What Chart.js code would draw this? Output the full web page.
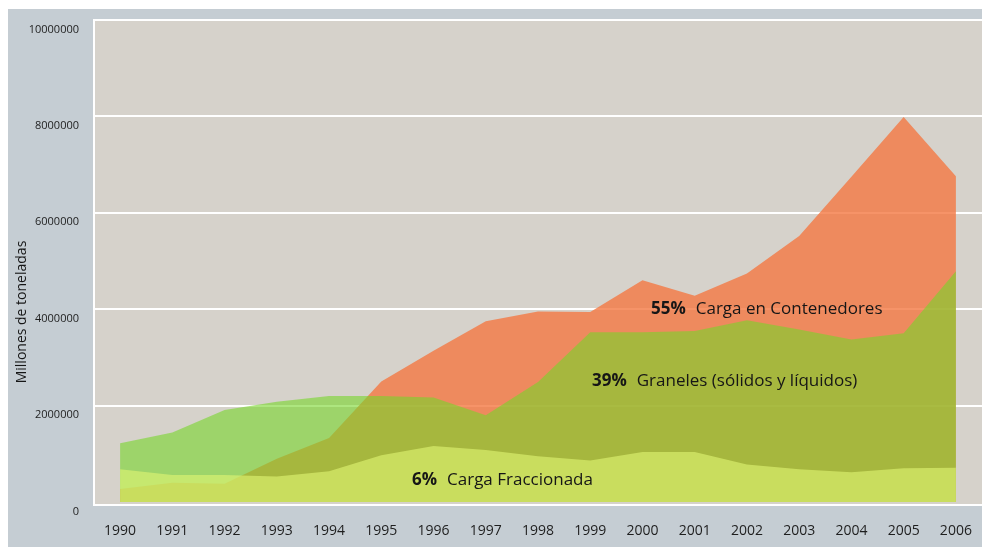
<!DOCTYPE html>
<html>
<head>
<meta charset="utf-8">
<script src="https://cdn.jsdelivr.net/npm/chart.js"></script>
<style>
  html, body { margin: 0; padding: 0; background: #fff; overflow: hidden; }
  #wrap { position: relative; width: 983px; height: 547px; }
</style>
</head>
<body>
<div id="wrap"><canvas id="grafico"></canvas></div>
<script>
// Datos (toneladas)
const anios = ['1990','1991','1992','1993','1994','1995','1996','1997','1998','1999','2000','2001','2002','2003','2004','2005','2006'];
const contenedores = [270000, 400000, 380000, 900000, 1330000, 2500000, 3140000, 3750000, 3950000, 3940000, 4600000, 4280000, 4740000, 5520000, 6750000, 7990000, 6760000];
const graneles = [1220000, 1440000, 1910000, 2080000, 2200000, 2200000, 2170000, 1800000, 2490000, 3520000, 3520000, 3550000, 3770000, 3580000, 3370000, 3500000, 4790000];
const fraccionada = [680000, 560000, 560000, 530000, 640000, 970000, 1160000, 1080000, 950000, 860000, 1040000, 1040000, 780000, 680000, 620000, 700000, 710000];
const ticksY = [0, 2000000, 4000000, 6000000, 8000000, 10000000];
const etiquetas = [
  { pct: '55%', texto: 'Carga en Contenedores', x: 651, y: 309 },
  { pct: '39%', texto: 'Graneles (sólidos y líquidos)', x: 592, y: 381 },
  { pct: '6%', texto: 'Carga Fraccionada', x: 412, y: 480 }
];

const fuente = "'Open Sans', 'DejaVu Sans', sans-serif";

// Fondo: marco blanco, panel gris azulado y area de trazado beige
const fondo = {
  id: 'fondo',
  beforeDraw(chart) {
    const { ctx, chartArea: a } = chart;
    ctx.save();
    ctx.fillStyle = '#ffffff';
    ctx.fillRect(0, 0, chart.width, chart.height);
    ctx.fillStyle = '#c5cdd3';
    ctx.fillRect(8, 9, 974, chart.height - 9);
    ctx.fillStyle = '#d6d2cb';
    ctx.fillRect(a.left, a.top, a.right - a.left, a.bottom - a.top);
    ctx.restore();
  }
};

// Titulo del eje y textos sobre las areas
const textos = {
  id: 'textos',
  afterDatasetsDraw(chart) {
    const { ctx } = chart;
    ctx.save();
    ctx.fillStyle = '#161616';
    ctx.textBaseline = 'middle';
    etiquetas.forEach(e => {
      ctx.font = 'bold 17px ' + fuente;
      ctx.fillText(e.pct, e.x, e.y);
      const w = ctx.measureText(e.pct).width;
      ctx.font = '17px ' + fuente;
      ctx.fillText(e.texto, e.x + w + 10, e.y);
    });
    // titulo vertical
    ctx.translate(22, 312);
    ctx.rotate(-Math.PI / 2);
    ctx.textAlign = 'center';
    ctx.font = '14px ' + fuente;
    ctx.fillText('Millones de toneladas', 0, 0);
    ctx.restore();
  }
};

const area = (label, data, color, orden) => ({
  label, data,
  backgroundColor: color,
  borderWidth: 0,
  pointRadius: 0,
  pointHoverRadius: 0,
  tension: 0,
  fill: 'origin',
  order: orden
});

new Chart(document.getElementById('grafico'), {
  type: 'line',
  data: {
    labels: anios,
    datasets: [
      area('Carga Fraccionada', fraccionada, 'rgba(223,243,114,0.62)', 1),
      area('Graneles (sólidos y líquidos)', graneles, 'rgba(119,213,41,0.6)', 2),
      area('Carga en Contenedores', contenedores, 'rgba(244,120,66,0.8)', 3)
    ]
  },
  options: {
    responsive: true,
    maintainAspectRatio: false,
    animation: false,
    layout: { padding: { top: 20, right: 1, left: 0, bottom: 0 } },
    plugins: { legend: { display: false }, tooltip: { enabled: false } },
    scales: {
      x: {
        offset: true,
        grid: { display: false, drawTicks: false },
        border: { color: '#ffffff', width: 2 },
        ticks: { color: '#1e1e1e', font: { family: fuente, size: 14 }, padding: 18, maxRotation: 0, autoSkip: false },
        afterFit(scale) {
          scale.height = 42;
          scale.paddingLeft = 0;
          scale.paddingRight = 0;
        }
      },
      y: {
        min: -62000,
        max: 10000000,
        afterBuildTicks(scale) { scale.ticks = ticksY.map(v => ({ value: v })); },
        grid: {
          drawTicks: false,
          lineWidth: 2,
          color: ctx => (ctx.tick && ctx.tick.value === 0) ? 'rgba(0,0,0,0)' : '#ffffff'
        },
        border: { color: '#ffffff', width: 2 },
        ticks: {
          color: '#1e1e1e',
          font: { family: fuente, size: 11 },
          padding: 15,
          labelOffset: 9.5,
          callback: v => String(v)
        },
        afterFit(scale) {
          scale.width = 94;
          scale.paddingTop = 0;
          scale.paddingBottom = 0;
        }
      }
    }
  },
  plugins: [fondo, textos]
});
</script>
</body>
</html>
